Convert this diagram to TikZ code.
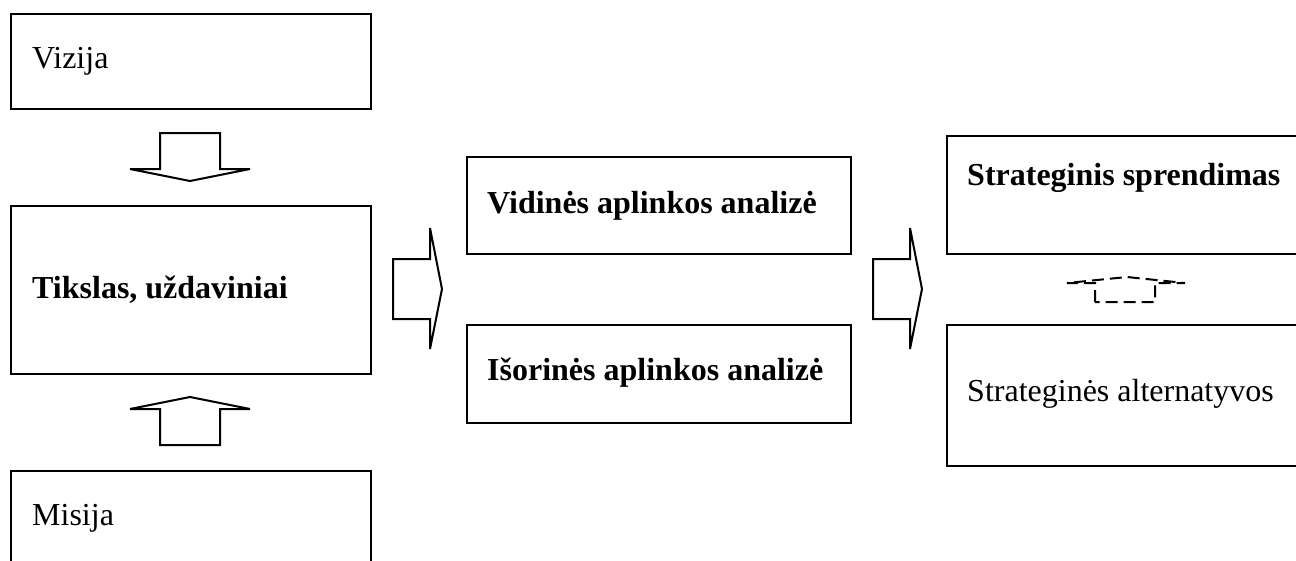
\documentclass[tikz,border=0pt]{standalone}
\usepackage{fontspec}
\setmainfont{Liberation Serif}
\begin{document}
\begin{tikzpicture}[x=1pt,y=-1pt,
  box/.style={draw=black, line width=2pt, fill=white, inner sep=0pt, anchor=north west},
  lbl/.style={inner sep=0pt, anchor=base west, font=\fontsize{32}{38}\selectfont},
  blbl/.style={lbl, font=\fontsize{32}{38}\selectfont\bfseries},
  blockarrow/.style={draw=black, line width=2pt, line join=miter, fill=white},
  dashedarrow/.style={draw=black, line width=2pt, dash pattern=on 12pt off 6pt}]
\useasboundingbox (0,0) rectangle (1296,560);
\clip (0,0) rectangle (1296,560);
% boxes
\node[box, minimum width=360pt, minimum height=95pt] (viz) at (10,13) {};
\node[box, minimum width=360pt, minimum height=168pt] (tik) at (10,205) {};
\node[box, minimum width=360pt, minimum height=120pt] (mis) at (10,470) {};
\node[box, minimum width=384pt, minimum height=97pt] (vid) at (466,156) {};
\node[box, minimum width=384pt, minimum height=98pt] (iso) at (466,324) {};
\node[box, minimum width=370pt, minimum height=118pt] (spr) at (946,135) {};
\node[box, minimum width=370pt, minimum height=141pt] (alt) at (946,324) {};
% texts
\node[lbl] (tviz) at (32,68) {Vizija};
\node[blbl] (ttik) at (32,298) {Tikslas, uždaviniai};
\node[lbl] (tmis) at (32,525) {Misija};
\node[blbl] (tvid) at (487,213) {Vidinės aplinkos analizė};
\node[blbl] (tiso) at (487,380) {Išorinės aplinkos analizė};
\node[blbl] (tspr) at (967,185) {Strateginis sprendimas};
\node[lbl] (talt) at (967,401) {Strateginės alternatyvos};
% block arrows
\draw[blockarrow] (160,133) -- (220,133) -- (220,169) -- (250,169) -- (190,181) -- (130,169) -- (160,169) -- cycle;
\draw[blockarrow] (160,445) -- (220,445) -- (220,409) -- (250,409) -- (190,397) -- (130,409) -- (160,409) -- cycle;
\draw[blockarrow] (393,259) -- (430,259) -- (430,228) -- (442,289) -- (430,349) -- (430,319) -- (393,319) -- cycle;
\draw[blockarrow] (873,259) -- (910,259) -- (910,228) -- (922,289) -- (910,349) -- (910,319) -- (873,319) -- cycle;
% dashed arrow between right boxes
\draw[dashedarrow] (1095,302) -- (1095,283) -- (1067,283) -- (1127,277) -- (1185,283) -- (1155,283) -- (1155,302) -- cycle;
\end{tikzpicture}
\end{document}
